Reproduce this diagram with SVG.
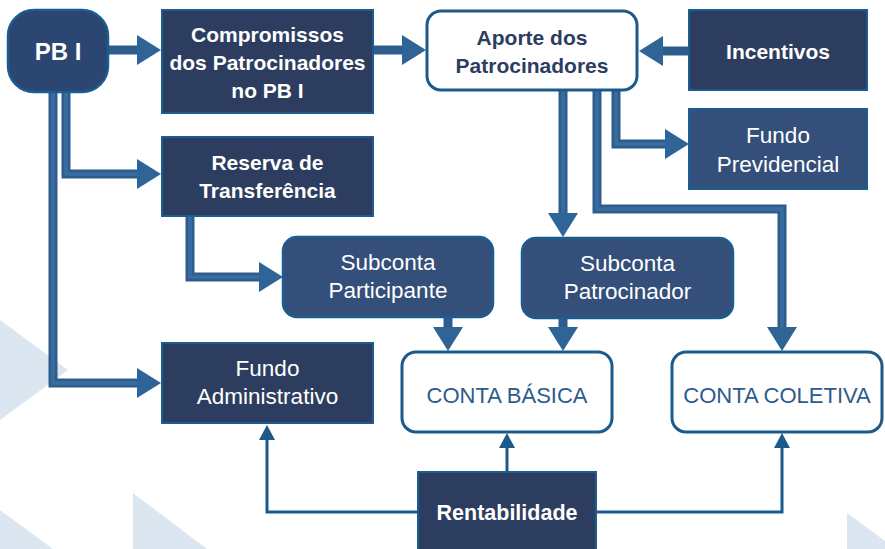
<svg xmlns="http://www.w3.org/2000/svg" width="885" height="549" viewBox="0 0 885 549">
<style>
.dark{fill:#2c3d5f;stroke:#1b5d91;stroke-width:2}
.mid{fill:#344f79;stroke:#1b5d91;stroke-width:2}
.white{fill:#ffffff;stroke:#1d5a8c;stroke-width:3}
.t{font-family:"Liberation Sans",Arial,sans-serif;text-anchor:middle;font-size:21px}
.r{font-size:22.5px}
.b{font-weight:bold}
.w{fill:#ffffff}
.n{fill:#2c3d5f}
.c{fill:#2d5b8c;font-size:22px}
.shaft{fill:none;stroke:#2d5c8d;stroke-width:9;stroke-linejoin:miter}
.hl{fill:none;stroke:#3a6d9f;stroke-width:3.5}
.thin{fill:none;stroke:#1d5a8c;stroke-width:3}
.bg{fill:#dce6f1}
</style>
<defs>
<marker id="big" markerUnits="userSpaceOnUse" markerWidth="24" markerHeight="30" viewBox="0 0 24 30" refX="0" refY="15" orient="auto">
<path d="M0,0 L24,15 L0,30 z" fill="#2f6497"/>
</marker>
<marker id="small" markerUnits="userSpaceOnUse" markerWidth="15" markerHeight="16" viewBox="0 0 15 16" refX="0" refY="8" orient="auto">
<path d="M0,0 L15,8 L0,16 z" fill="#1d5a8c"/>
</marker>
</defs>
<rect width="885" height="549" fill="#ffffff"/>
<g id="background">
<polygon class="bg" points="0,320 68,370 0,420"/>
<polygon class="bg" points="0,510 53,549 0,549"/>
<polygon class="bg" points="133,493 207,549 133,549"/>
<polygon class="bg" points="847,513 885,541 885,549 847,549"/>
</g>
<g id="connectors">
<path class="shaft" d="M108,50 H137" marker-end="url(#big)"/>
<path class="shaft" d="M373,50 H402" marker-end="url(#big)"/>
<path class="shaft" d="M689,51 H663" marker-end="url(#big)"/>
<path class="shaft" d="M616,90 V144 H665" marker-end="url(#big)"/>
<path class="shaft" d="M563,90 V213" marker-end="url(#big)"/>
<path class="shaft" d="M597,90 V209 H782 V327" marker-end="url(#big)"/>
<path class="shaft" d="M66,92 V174 H137" marker-end="url(#big)"/>
<path class="shaft" d="M53,92 V383 H137" marker-end="url(#big)"/>
<path class="shaft" d="M190,216 V277 H259" marker-end="url(#big)"/>
<path class="shaft" d="M448,317 V327" marker-end="url(#big)"/>
<path class="shaft" d="M563,318 V327" marker-end="url(#big)"/>
<path class="hl" d="M616,90 V144 H665"/>
<path class="hl" d="M597,90 V209 H782 V327"/>
<path class="hl" d="M66,92 V174 H137"/>
<path class="hl" d="M53,92 V383 H137"/>
<path class="hl" d="M190,216 V277 H259"/>
<path class="hl" d="M563,90 V213"/>
<path class="thin" d="M418,512 H267 V440" marker-end="url(#small)"/>
<path class="thin" d="M507,472 V448" marker-end="url(#small)"/>
<path class="thin" d="M596,512 H782 V448" marker-end="url(#small)"/>
</g>
<g id="pb1">
<rect x="8" y="10" width="100" height="82" rx="26" fill="#2b4670" stroke="#1b5d91" stroke-width="2.5"/>
<text class="t b w" x="58" y="60" style="font-size:24px">PB I</text>
</g>
<g id="compromissos">
<rect class="dark" x="162" y="10" width="211" height="103"/>
<text class="t b w" x="267.5" y="42">Compromissos</text>
<text class="t b w" x="267.5" y="70">dos Patrocinadores</text>
<text class="t b w" x="267.5" y="98">no PB I</text>
</g>
<g id="aporte">
<rect class="white" x="427" y="11" width="210" height="79" rx="14"/>
<text class="t b n" x="532" y="45">Aporte dos</text>
<text class="t b n" x="532" y="73">Patrocinadores</text>
</g>
<g id="incentivos">
<rect class="dark" x="689" y="10" width="178" height="80"/>
<text class="t b w" x="778" y="59">Incentivos</text>
</g>
<g id="fundo-previdencial">
<rect class="mid" x="689" y="109" width="178" height="80"/>
<text class="t r w" x="778" y="143">Fundo</text>
<text class="t r w" x="778" y="172">Previdencial</text>
</g>
<g id="reserva">
<rect class="dark" x="162" y="137" width="211" height="79"/>
<text class="t b w" x="267.5" y="170">Reserva de</text>
<text class="t b w" x="267.5" y="198">Transferência</text>
</g>
<g id="subconta-participante">
<rect class="mid" x="283" y="237" width="210" height="80" rx="14" style="stroke-width:2.5"/>
<text class="t r w" x="388" y="270">Subconta</text>
<text class="t r w" x="388" y="298">Participante</text>
</g>
<g id="subconta-patrocinador">
<rect class="mid" x="522" y="238" width="211" height="80" rx="14" style="stroke-width:2.5"/>
<text class="t r w" x="627.5" y="271">Subconta</text>
<text class="t r w" x="627.5" y="299">Patrocinador</text>
</g>
<g id="fundo-administrativo">
<rect class="dark" x="162" y="343" width="211" height="80"/>
<text class="t r w" x="267.5" y="376">Fundo</text>
<text class="t r w" x="267.5" y="404">Administrativo</text>
</g>
<g id="conta-basica">
<rect class="white" x="402" y="352" width="210" height="80" rx="14"/>
<text class="t c" x="507" y="403">CONTA BÁSICA</text>
</g>
<g id="conta-coletiva">
<rect class="white" x="672" y="352" width="210" height="80" rx="14"/>
<text class="t c" x="777" y="403">CONTA COLETIVA</text>
</g>
<g id="rentabilidade">
<rect class="dark" x="418" y="472" width="178" height="80"/>
<text class="t b w" x="507" y="520" style="font-size:21.5px">Rentabilidade</text>
</g>
</svg>
